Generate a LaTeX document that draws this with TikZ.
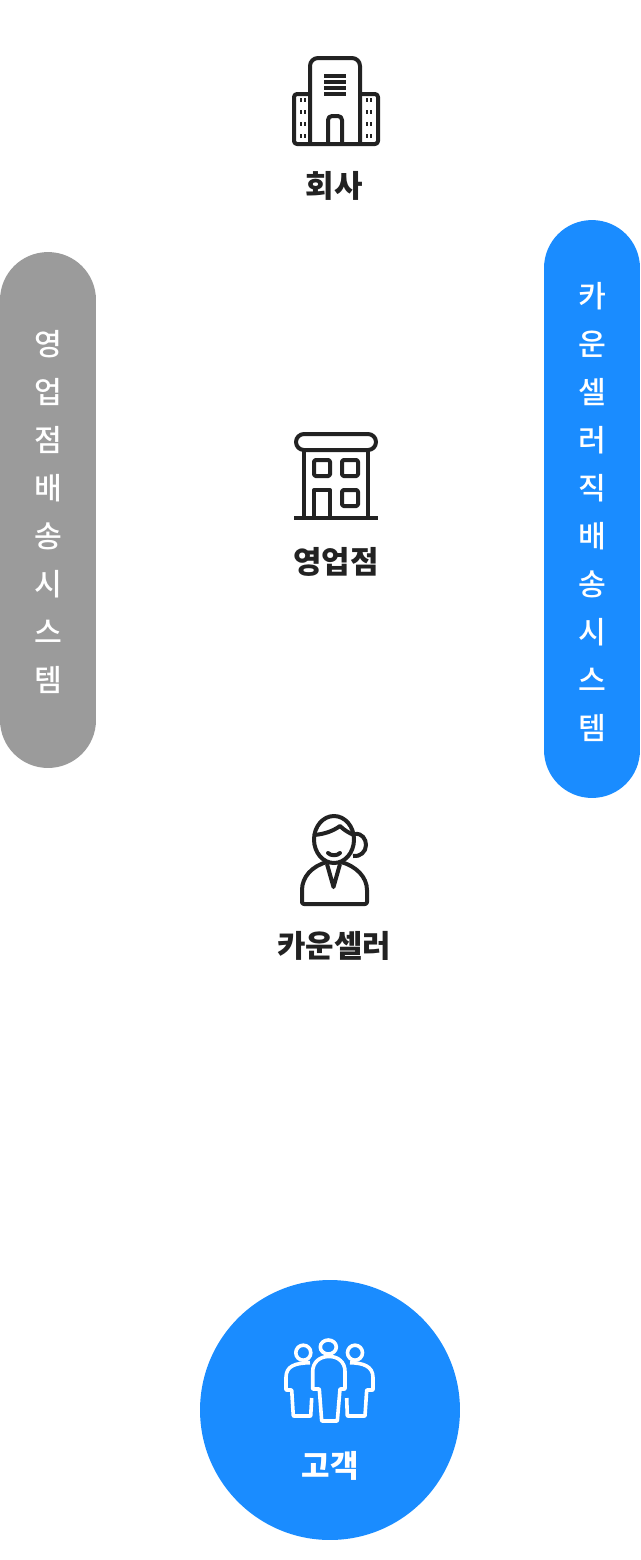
\documentclass[tikz,border=0pt]{standalone}
\usepackage{fontspec}
\usepackage{pgf, tikz}
\setmainfont{Noto Sans CJK KR}
\newfontfamily\cjkmedium{Noto Sans CJK KR Medium}
\pgfdeclarelayer{edgelayer}
\pgfdeclarelayer{nodelayer}
\pgfsetlayers{edgelayer,main,nodelayer}
\definecolor{inkblack}{HTML}{222222}
\definecolor{pillblue}{HTML}{1A8CFF}
\definecolor{pillgray}{HTML}{9B9B9B}
\tikzstyle{icon}=[draw=inkblack, line width=0.08cm, line join=round]
\tikzstyle{whiteicon}=[draw=white, line width=0.072cm, line join=round]
\tikzstyle{title}=[text=inkblack, font=\fontsize{17.6}{17.6}\selectfont\bfseries, inner sep=0pt]
\tikzstyle{whitetitle}=[text=white, font=\fontsize{17.6}{17.6}\selectfont\bfseries, inner sep=0pt]
\tikzstyle{glyph}=[text=white, font=\fontsize{17.2}{17.2}\selectfont\cjkmedium, inner sep=0pt]
\tikzstyle{pill}=[inner sep=0pt, minimum width=1.92cm, rounded corners=0.959cm]

\begin{document}
\begin{tikzpicture}[x=0.02cm, y=-0.02cm]
	\useasboundingbox (0, 0) rectangle (640, 1560);
	\begin{pgfonlayer}{edgelayer}
		\node [style=pill, fill=pillgray, minimum height=10.32cm] (graypill) at (48, 510) {};
		\node [style=pill, fill=pillblue, minimum height=11.56cm] (bluepill) at (592, 509) {};
		\node [circle, fill=pillblue, inner sep=0pt, minimum size=5.2cm] (customercircle) at (330, 1410) {};
	\end{pgfonlayer}
	% company
	\draw [style=icon, rounded corners=0.16cm] (310, 144) -- (310, 58) -- (360, 58) -- (360, 144);
	\draw [style=icon, rounded corners=0.06cm] (310, 94) -- (294, 94) -- (294, 144) -- (378, 144) -- (378, 94) -- (360, 94);
	\draw [style=icon, rounded corners=0.08cm] (328, 144) -- (328, 116) -- (342, 116) -- (342, 144);
	\draw [draw=inkblack, line width=0.074cm] (324, 76) -- (346, 76) (324, 82) -- (346, 82) (324, 88) -- (346, 88) (324, 94) -- (346, 94);
	\draw [draw=inkblack, line width=0.04cm, dash pattern=on 0.08cm off 0.16cm]
		(300.7, 98) -- (300.7, 140) (305, 98) -- (305, 140) (366.7, 98) -- (366.7, 140) (371, 98) -- (371, 140);
	% branch
	\draw [style=icon, rounded corners=0.16cm] (296, 434) rectangle (376, 450);
	\draw [style=icon] (304, 450) -- (304, 518) (368, 450) -- (368, 518) (294, 518) -- (378, 518);
	\draw [style=icon, rounded corners=0.03cm] (314, 460) rectangle (330, 476);
	\draw [style=icon, rounded corners=0.03cm] (342, 460) rectangle (358, 476);
	\draw [style=icon, rounded corners=0.03cm] (342, 490) rectangle (358, 506);
	\draw [style=icon] (314, 518) -- (314, 490) -- (330, 490) -- (330, 518);
	% counselor
	\draw [style=icon] (334, 839.5) ellipse [x radius=20, y radius=23.5];
	\draw [style=icon] (314, 835) .. controls (325, 834) and (333, 831) .. (340, 826) .. controls (344, 830) and (349, 833) .. (354, 835);
	\draw [style=icon] (355, 834) .. controls (362, 833) and (366, 839) .. (366, 845) .. controls (366, 852) and (360, 857) .. (353, 856);
	\draw [style=icon, line cap=round] (328, 853) .. controls (331, 856) and (337, 856) .. (340, 853);
	\draw [style=icon, rounded corners=0.04cm] (327, 862) .. controls (312, 866) and (302, 877) .. (302, 892) -- (302, 904) -- (367, 904) -- (367, 892) .. controls (367, 877) and (356, 866) .. (341, 862);
	\draw [style=icon] (327, 864) -- (333.5, 887) -- (340, 864);
	% customer
	\draw [style=whiteicon] (328.3, 1347) ellipse [x radius=8, y radius=7];
	\draw [style=whiteicon] (303.3, 1352.7) circle [radius=7.5];
	\draw [style=whiteicon] (355, 1352.7) circle [radius=7.5];
	\draw [style=whiteicon, rounded corners=0.01cm] (319.3, 1389) -- (312.7, 1389) -- (312.7, 1372) .. controls (312.7, 1362) and (320, 1356.5) .. (329, 1356.5) .. controls (338, 1356.5) and (345, 1362) .. (345, 1372) -- (345, 1389) -- (340, 1389) -- (337.3, 1421) -- (321.7, 1421) -- cycle;
	\draw [style=whiteicon, rounded corners=0.01cm] (310, 1362.7) .. controls (295, 1363) and (286, 1366) .. (286, 1378) -- (286, 1390) -- (291.7, 1390) -- (293.3, 1416) -- (310.7, 1416) -- (311.7, 1398);
	\draw [style=whiteicon, rounded corners=0.01cm] (350, 1362.7) .. controls (363, 1363) and (373, 1366) .. (373, 1378) -- (373, 1390) -- (366.7, 1390) -- (365, 1416) -- (347.3, 1416) -- (346.7, 1398);
	\begin{pgfonlayer}{nodelayer}
		\node [style=title] (company) at (334, 186) {회사};
		\node [style=title] (branch) at (336, 562) {영업점};
		\node [style=title] (counselor) at (334, 946) {카운셀러};
		\node [style=whitetitle] (customer) at (330, 1466) {고객};
		\node [style=glyph] (gray1) at (48, 344) {영};
		\node [style=glyph] (gray2) at (48, 392) {업};
		\node [style=glyph] (gray3) at (48, 440) {점};
		\node [style=glyph] (gray4) at (48, 488) {배};
		\node [style=glyph] (gray5) at (48, 536) {송};
		\node [style=glyph] (gray6) at (48, 584) {시};
		\node [style=glyph] (gray7) at (48, 632) {스};
		\node [style=glyph] (gray8) at (48, 680) {템};
		\node [style=glyph] (blue1) at (592, 296) {카};
		\node [style=glyph] (blue2) at (592, 344) {운};
		\node [style=glyph] (blue3) at (592, 392) {셀};
		\node [style=glyph] (blue4) at (592, 440) {러};
		\node [style=glyph] (blue5) at (592, 488) {직};
		\node [style=glyph] (blue6) at (592, 536) {배};
		\node [style=glyph] (blue7) at (592, 584) {송};
		\node [style=glyph] (blue8) at (592, 632) {시};
		\node [style=glyph] (blue9) at (592, 680) {스};
		\node [style=glyph] (blue10) at (592, 728) {템};
	\end{pgfonlayer}
\end{tikzpicture}
\end{document}
